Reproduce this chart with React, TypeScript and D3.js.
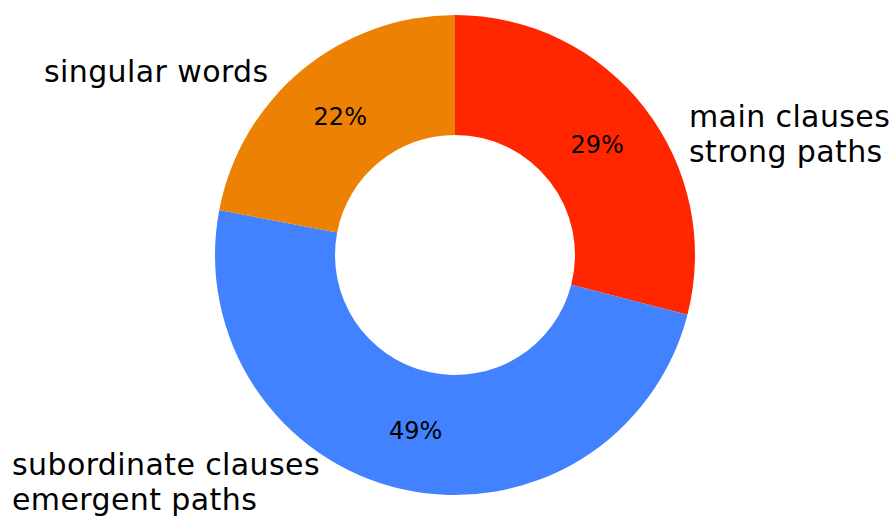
import React from "react";
import * as d3 from "d3";

const categories = ["main clauses|strong paths", "subordinate clauses|emergent paths", "singular words"];
const values = [29, 49, 22];
const colors = ["#ff2600", "#4282fe", "#ec8104"];

const W = 889;
const H = 519;
const cx = 455;
const cy = 255;
const outerR = 240;
const innerR = 120;

const outerLabels = [
  { x: 689, y: 127, anchor: "start" },
  { x: 12, y: 475, anchor: "start" },
  { x: 44, y: 82, anchor: "start" },
];

export default function App() {
  const pie = d3.pie<number>().sort(null).value((d) => d);
  const arcs = pie(values);
  const arc = d3.arc<d3.PieArcDatum<number>>().innerRadius(innerR).outerRadius(outerR);
  const font = "'DejaVu Sans', Verdana, sans-serif";
  return (
    <div style={{ position: "fixed", left: 0, top: 0, background: "#fff" }}>
      <svg width={W} height={H} style={{ display: "block" }}>
        <g transform={`translate(${cx},${cy})`}>
          {arcs.map((a, i) => (
            <path key={i} d={arc(a) || ""} fill={colors[i]} />
          ))}
          {arcs.map((a, i) => {
            const [x, y] = arc.centroid(a);
            return (
              <text key={"p" + i} x={x} y={y} dy="0.36em" textAnchor="middle" fontFamily={font} fontSize={24} fill="#000">
                {values[i]}%
              </text>
            );
          })}
        </g>
        {categories.map((c, i) => (
          <text key={"l" + i} x={outerLabels[i].x} y={outerLabels[i].y} fontFamily={font} fontSize={30} letterSpacing={0.4} fill="#000" textAnchor={outerLabels[i].anchor as any}>
            {c.split("|").map((line, j) => (
              <tspan key={j} x={outerLabels[i].x} dy={j === 0 ? 0 : 35}>
                {line}
              </tspan>
            ))}
          </text>
        ))}
      </svg>
    </div>
  );
}
